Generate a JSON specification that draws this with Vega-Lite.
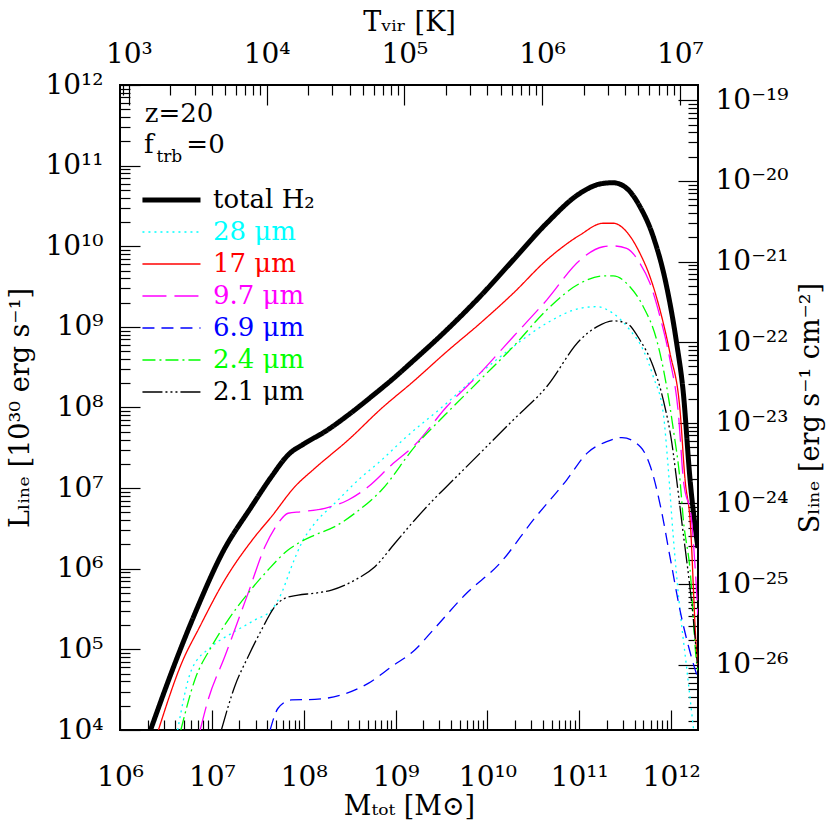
{
  "$schema": "https://vega.github.io/schema/vega-lite/v6.json",
  "width": 578,
  "height": 645,
  "autosize": "none",
  "padding": {"left": 120, "top": 85, "right": 132, "bottom": 100},
  "background": "white",
  "config": {
    "view": {"stroke": "black", "strokeWidth": 2},
    "axis": {
      "grid": false,
      "labelFont": "DejaVu Serif", "labelFontSize": 28, "labelColor": "black",
      "titleFont": "DejaVu Serif", "titleFontSize": 27, "titleFontWeight": "normal", "titleColor": "black"
    },
    "text": {"font": "DejaVu Serif", "color": "black"}
  },
  "datasets": {
    "lines": [
      {"series": "total H₂", "M": 2.15e6, "L": 1e4},
      {"series": "total H₂", "M": 3.72e6, "L": 5.55e4},
      {"series": "total H₂", "M": 6.79e6, "L": 3.08e5},
      {"series": "total H₂", "M": 1.30e7, "L": 1.57e6},
      {"series": "total H₂", "M": 2.70e7, "L": 5.89e6},
      {"series": "total H₂", "M": 4.46e7, "L": 1.39e7},
      {"series": "total H₂", "M": 6.76e7, "L": 2.58e7},
      {"series": "total H₂", "M": 1.03e8, "L": 3.60e7},
      {"series": "total H₂", "M": 1.70e8, "L": 5.01e7},
      {"series": "total H₂", "M": 3.05e8, "L": 8.07e7},
      {"series": "total H₂", "M": 5.96e8, "L": 1.48e8},
      {"series": "total H₂", "M": 9.04e8, "L": 2.19e8},
      {"series": "total H₂", "M": 1.56e9, "L": 3.80e8},
      {"series": "total H₂", "M": 3.60e9, "L": 9.14e8},
      {"series": "total H₂", "M": 8.28e9, "L": 2.37e9},
      {"series": "total H₂", "M": 1.91e10, "L": 6.75e9},
      {"series": "total H₂", "M": 4.42e10, "L": 1.93e10},
      {"series": "total H₂", "M": 1.02e11, "L": 4.54e10},
      {"series": "total H₂", "M": 1.68e11, "L": 5.92e10},
      {"series": "total H₂", "M": 2.34e11, "L": 6.14e10},
      {"series": "total H₂", "M": 3.28e11, "L": 5.24e10},
      {"series": "total H₂", "M": 4.58e11, "L": 3.10e10},
      {"series": "total H₂", "M": 6.40e11, "L": 1.31e10},
      {"series": "total H₂", "M": 8.95e11, "L": 3.15e9},
      {"series": "total H₂", "M": 1.15e12, "L": 6.25e8},
      {"series": "total H₂", "M": 1.36e12, "L": 1.50e8},
      {"series": "total H₂", "M": 1.61e12, "L": 1.26e7},
      {"series": "total H₂", "M": 1.96e12, "L": 1.81e6},

      {"series": "28 μm", "M": 4.24e6, "L": 1e4},
      {"series": "28 μm", "M": 6.00e6, "L": 5.55e4},
      {"series": "28 μm", "M": 9.91e6, "L": 1.08e5},
      {"series": "28 μm", "M": 1.64e7, "L": 1.58e5},
      {"series": "28 μm", "M": 2.93e7, "L": 2.31e5},
      {"series": "28 μm", "M": 4.46e7, "L": 3.08e5},
      {"series": "28 μm", "M": 5.73e7, "L": 4.97e5},
      {"series": "28 μm", "M": 7.36e7, "L": 1.06e6},
      {"series": "28 μm", "M": 9.46e7, "L": 2.07e6},
      {"series": "28 μm", "M": 1.32e8, "L": 3.66e6},
      {"series": "28 μm", "M": 2.18e8, "L": 6.49e6},
      {"series": "28 μm", "M": 3.92e8, "L": 1.26e7},
      {"series": "28 μm", "M": 7.05e8, "L": 2.23e7},
      {"series": "28 μm", "M": 1.26e9, "L": 4.15e7},
      {"series": "28 μm", "M": 3.60e9, "L": 1.13e8},
      {"series": "28 μm", "M": 8.28e9, "L": 2.65e8},
      {"series": "28 μm", "M": 1.91e10, "L": 5.68e8},
      {"series": "28 μm", "M": 4.42e10, "L": 1.11e9},
      {"series": "28 μm", "M": 1.02e11, "L": 1.70e9},
      {"series": "28 μm", "M": 1.55e11, "L": 1.78e9},
      {"series": "28 μm", "M": 2.34e11, "L": 1.47e9},
      {"series": "28 μm", "M": 3.56e11, "L": 9.14e8},
      {"series": "28 μm", "M": 4.98e11, "L": 5.16e8},
      {"series": "28 μm", "M": 6.40e11, "L": 2.41e8},
      {"series": "28 μm", "M": 8.22e11, "L": 8.47e7},
      {"series": "28 μm", "M": 9.25e11, "L": 1.94e7},
      {"series": "28 μm", "M": 1.05e12, "L": 2.70e6},
      {"series": "28 μm", "M": 1.22e12, "L": 3.98e5},
      {"series": "28 μm", "M": 1.48e12, "L": 5.79e4},
      {"series": "28 μm", "M": 1.76e12, "L": 1e4},

      {"series": "17 μm", "M": 2.62e6, "L": 1e4},
      {"series": "17 μm", "M": 4.85e6, "L": 7.38e4},
      {"series": "17 μm", "M": 7.08e6, "L": 1.74e5},
      {"series": "17 μm", "M": 1.38e7, "L": 7.24e5},
      {"series": "17 μm", "M": 2.94e7, "L": 2.50e6},
      {"series": "17 μm", "M": 4.46e7, "L": 4.43e6},
      {"series": "17 μm", "M": 8.00e7, "L": 1.04e7},
      {"series": "17 μm", "M": 1.32e8, "L": 1.76e7},
      {"series": "17 μm", "M": 3.05e8, "L": 3.95e7},
      {"series": "17 μm", "M": 7.05e8, "L": 9.77e7},
      {"series": "17 μm", "M": 1.56e9, "L": 2.10e8},
      {"series": "17 μm", "M": 3.60e9, "L": 4.92e8},
      {"series": "17 μm", "M": 8.28e9, "L": 1.10e9},
      {"series": "17 μm", "M": 1.91e10, "L": 2.61e9},
      {"series": "17 μm", "M": 4.42e10, "L": 6.75e9},
      {"series": "17 μm", "M": 1.02e11, "L": 1.38e10},
      {"series": "17 μm", "M": 1.82e11, "L": 1.93e10},
      {"series": "17 μm", "M": 2.34e11, "L": 1.93e10},
      {"series": "17 μm", "M": 3.28e11, "L": 1.51e10},
      {"series": "17 μm", "M": 4.58e11, "L": 8.17e9},
      {"series": "17 μm", "M": 5.89e11, "L": 4.19e9},
      {"series": "17 μm", "M": 7.57e11, "L": 1.62e9},
      {"series": "17 μm", "M": 9.73e11, "L": 4.70e8},
      {"series": "17 μm", "M": 1.25e12, "L": 9.31e7},
      {"series": "17 μm", "M": 1.42e12, "L": 1.26e7},
      {"series": "17 μm", "M": 1.61e12, "L": 4.03e6},
      {"series": "17 μm", "M": 1.90e12, "L": 9.02e4},
      {"series": "17 μm", "M": 1.96e12, "L": 6.46e4},

      {"series": "9.7 μm", "M": 7.46e6, "L": 1e4},
      {"series": "9.7 μm", "M": 9.10e6, "L": 2.36e4},
      {"series": "9.7 μm", "M": 1.38e7, "L": 8.11e4},
      {"series": "9.7 μm", "M": 2.48e7, "L": 4.97e5},
      {"series": "9.7 μm", "M": 3.78e7, "L": 1.87e6},
      {"series": "9.7 μm", "M": 5.26e7, "L": 3.66e6},
      {"series": "9.7 μm", "M": 6.76e7, "L": 4.88e6},
      {"series": "9.7 μm", "M": 9.46e7, "L": 5.11e6},
      {"series": "9.7 μm", "M": 1.70e8, "L": 5.62e6},
      {"series": "9.7 μm", "M": 3.05e8, "L": 7.13e6},
      {"series": "9.7 μm", "M": 5.04e8, "L": 1.04e7},
      {"series": "9.7 μm", "M": 9.04e8, "L": 1.94e7},
      {"series": "9.7 μm", "M": 1.62e9, "L": 3.43e7},
      {"series": "9.7 μm", "M": 3.60e9, "L": 1.02e8},
      {"series": "9.7 μm", "M": 8.28e9, "L": 2.65e8},
      {"series": "9.7 μm", "M": 1.91e10, "L": 7.55e8},
      {"series": "9.7 μm", "M": 4.42e10, "L": 2.15e9},
      {"series": "9.7 μm", "M": 1.02e11, "L": 6.75e9},
      {"series": "9.7 μm", "M": 1.82e11, "L": 9.86e9},
      {"series": "9.7 μm", "M": 2.34e11, "L": 1.01e10},
      {"series": "9.7 μm", "M": 3.28e11, "L": 9.44e9},
      {"series": "9.7 μm", "M": 4.58e11, "L": 6.15e9},
      {"series": "9.7 μm", "M": 5.89e11, "L": 3.47e9},
      {"series": "9.7 μm", "M": 7.57e11, "L": 1.34e9},
      {"series": "9.7 μm", "M": 9.73e11, "L": 3.88e8},
      {"series": "9.7 μm", "M": 1.20e12, "L": 8.47e7},
      {"series": "9.7 μm", "M": 1.36e12, "L": 1.26e7},
      {"series": "9.7 μm", "M": 1.67e12, "L": 4.03e6},
      {"series": "9.7 μm", "M": 1.90e12, "L": 4.97e5},
      {"series": "9.7 μm", "M": 1.96e12, "L": 2.69e5},

      {"series": "6.9 μm", "M": 4.31e7, "L": 1e4},
      {"series": "6.9 μm", "M": 5.26e7, "L": 1.86e4},
      {"series": "6.9 μm", "M": 7.36e7, "L": 2.36e4},
      {"series": "6.9 μm", "M": 1.32e8, "L": 2.40e4},
      {"series": "6.9 μm", "M": 2.58e8, "L": 2.72e4},
      {"series": "6.9 μm", "M": 5.04e8, "L": 3.79e4},
      {"series": "6.9 μm", "M": 9.04e8, "L": 6.10e4},
      {"series": "6.9 μm", "M": 1.62e9, "L": 9.82e4},
      {"series": "6.9 μm", "M": 2.57e9, "L": 1.74e5},
      {"series": "6.9 μm", "M": 5.93e9, "L": 4.97e5},
      {"series": "6.9 μm", "M": 1.37e10, "L": 1.17e6},
      {"series": "6.9 μm", "M": 3.16e10, "L": 4.03e6},
      {"series": "6.9 μm", "M": 7.29e10, "L": 1.26e7},
      {"series": "6.9 μm", "M": 1.21e11, "L": 2.70e7},
      {"series": "6.9 μm", "M": 1.99e11, "L": 3.77e7},
      {"series": "6.9 μm", "M": 2.92e11, "L": 4.24e7},
      {"series": "6.9 μm", "M": 4.65e11, "L": 3.24e7},
      {"series": "6.9 μm", "M": 5.98e11, "L": 1.83e7},
      {"series": "6.9 μm", "M": 7.71e11, "L": 5.77e6},
      {"series": "6.9 μm", "M": 9.91e11, "L": 1.25e6},
      {"series": "6.9 μm", "M": 1.28e12, "L": 2.69e5},
      {"series": "6.9 μm", "M": 1.64e12, "L": 8.51e4},
      {"series": "6.9 μm", "M": 1.95e12, "L": 4.42e4},

      {"series": "2.4 μm", "M": 4.60e6, "L": 1e4},
      {"series": "2.4 μm", "M": 6.52e6, "L": 4.17e4},
      {"series": "2.4 μm", "M": 9.91e6, "L": 1.08e5},
      {"series": "2.4 μm", "M": 1.50e7, "L": 2.31e5},
      {"series": "2.4 μm", "M": 2.48e7, "L": 4.97e5},
      {"series": "2.4 μm", "M": 4.09e7, "L": 9.64e5},
      {"series": "2.4 μm", "M": 6.76e7, "L": 1.71e6},
      {"series": "2.4 μm", "M": 8.69e7, "L": 2.07e6},
      {"series": "2.4 μm", "M": 1.32e8, "L": 2.62e6},
      {"series": "2.4 μm", "M": 2.18e8, "L": 3.33e6},
      {"series": "2.4 μm", "M": 3.61e8, "L": 4.88e6},
      {"series": "2.4 μm", "M": 7.05e8, "L": 9.48e6},
      {"series": "2.4 μm", "M": 1.62e9, "L": 3.27e7},
      {"series": "2.4 μm", "M": 3.60e9, "L": 8.47e7},
      {"series": "2.4 μm", "M": 8.28e9, "L": 2.19e8},
      {"series": "2.4 μm", "M": 1.91e10, "L": 5.68e8},
      {"series": "2.4 μm", "M": 4.42e10, "L": 1.62e9},
      {"series": "2.4 μm", "M": 1.02e11, "L": 3.47e9},
      {"series": "2.4 μm", "M": 1.82e11, "L": 4.28e9},
      {"series": "2.4 μm", "M": 2.34e11, "L": 4.28e9},
      {"series": "2.4 μm", "M": 3.56e11, "L": 3.15e9},
      {"series": "2.4 μm", "M": 4.98e11, "L": 1.78e9},
      {"series": "2.4 μm", "M": 6.97e11, "L": 6.87e8},
      {"series": "2.4 μm", "M": 8.95e11, "L": 1.81e8},
      {"series": "2.4 μm", "M": 1.06e12, "L": 5.26e7},
      {"series": "2.4 μm", "M": 1.25e12, "L": 1.26e7},
      {"series": "2.4 μm", "M": 1.36e12, "L": 4.03e6},
      {"series": "2.4 μm", "M": 1.61e12, "L": 9.64e5},
      {"series": "2.4 μm", "M": 1.90e12, "L": 6.71e4},
      {"series": "2.4 μm", "M": 1.96e12, "L": 5.50e4},

      {"series": "2.1 μm", "M": 1.27e7, "L": 1e4},
      {"series": "2.1 μm", "M": 1.77e7, "L": 3.44e4},
      {"series": "2.1 μm", "M": 2.48e7, "L": 8.11e4},
      {"series": "2.1 μm", "M": 3.47e7, "L": 1.74e5},
      {"series": "2.1 μm", "M": 4.84e7, "L": 3.38e5},
      {"series": "2.1 μm", "M": 6.22e7, "L": 4.30e5},
      {"series": "2.1 μm", "M": 8.69e7, "L": 4.72e5},
      {"series": "2.1 μm", "M": 1.32e8, "L": 4.97e5},
      {"series": "2.1 μm", "M": 2.01e8, "L": 5.45e5},
      {"series": "2.1 μm", "M": 3.61e8, "L": 7.24e5},
      {"series": "2.1 μm", "M": 5.96e8, "L": 1.06e6},
      {"series": "2.1 μm", "M": 9.84e8, "L": 2.07e6},
      {"series": "2.1 μm", "M": 1.62e9, "L": 4.03e6},
      {"series": "2.1 μm", "M": 2.57e9, "L": 7.13e6},
      {"series": "2.1 μm", "M": 4.24e9, "L": 1.26e7},
      {"series": "2.1 μm", "M": 8.28e9, "L": 2.70e7},
      {"series": "2.1 μm", "M": 1.91e10, "L": 7.00e7},
      {"series": "2.1 μm", "M": 4.42e10, "L": 1.81e8},
      {"series": "2.1 μm", "M": 1.02e11, "L": 6.87e8},
      {"series": "2.1 μm", "M": 1.55e11, "L": 1.00e9},
      {"series": "2.1 μm", "M": 2.34e11, "L": 1.19e9},
      {"series": "2.1 μm", "M": 3.28e11, "L": 1.11e9},
      {"series": "2.1 μm", "M": 4.58e11, "L": 6.87e8},
      {"series": "2.1 μm", "M": 6.40e11, "L": 3.21e8},
      {"series": "2.1 μm", "M": 8.22e11, "L": 1.24e8},
      {"series": "2.1 μm", "M": 1.02e12, "L": 3.60e7},
      {"series": "2.1 μm", "M": 1.15e12, "L": 1.26e7},
      {"series": "2.1 μm", "M": 1.30e12, "L": 4.03e6},
      {"series": "2.1 μm", "M": 1.75e12, "L": 2.31e5},
      {"series": "2.1 μm", "M": 1.93e12, "L": 6.76e4}
    ],
    "notes": [
      {"note": "z=20", "M": 1.86e6, "L": 3.51e11, "size": "big"},
      {"note": "f", "M": 1.82e6, "L": 1.42e11, "size": "big"},
      {"note": "=0", "M": 5.28e6, "L": 1.42e11, "size": "big"},
      {"note": "trb", "M": 2.49e6, "L": 1.12e11, "size": "small"}
    ]
  },
  "layer": [
    {
      "data": {"name": "lines"},
      "mark": {"type": "line", "clip": true, "interpolate": "monotone"},
      "encoding": {
        "x": {
          "field": "M", "type": "quantitative",
          "scale": {"type": "log", "domain": [1e6, 1.963e12], "nice": false},
          "axis": {
            "orient": "bottom", "domainColor": "black", "tickColor": "black", "tickWidth": 1.2,
            "values": [1e6, 1e7, 1e8, 1e9, 1e10, 1e11, 1e12],
            "labelExpr": "'10' + ['⁶','⁷','⁸','⁹','¹⁰','¹¹','¹²'][round(log(datum.value)/LN10) - 6]",
            "labelFlush": false, "labelOverlap": false,
            "tickSize": -20, "labelPadding": 53,
            "title": "Mₜₒₜ [M⊙]", "titlePadding": 2
          }
        },
        "y": {
          "field": "L", "type": "quantitative",
          "scale": {"type": "log", "domain": [1e4, 1e12], "nice": false},
          "axis": {
            "orient": "left", "domainColor": "black", "tickColor": "black", "tickWidth": 1.2,
            "values": [1e4, 1e5, 1e6, 1e7, 1e8, 1e9, 1e10, 1e11, 1e12],
            "labelExpr": "'10' + ['⁴','⁵','⁶','⁷','⁸','⁹','¹⁰','¹¹','¹²'][round(log(datum.value)/LN10) - 4]",
            "labelFlush": false, "labelOverlap": false,
            "tickSize": -20, "labelPadding": 37,
            "title": "Lₗᵢₙₑ [10³⁰ erg s⁻¹]", "titlePadding": 10
          }
        },
        "color": {
          "field": "series", "type": "nominal",
          "scale": {
            "domain": ["total H₂", "28 μm", "17 μm", "9.7 μm", "6.9 μm", "2.4 μm", "2.1 μm"],
            "range": ["#000000", "#00ffff", "#ff0000", "#ff00ff", "#0000ff", "#00ff00", "#000000"]
          },
          "legend": {
            "title": null, "orient": "none", "legendX": 54, "legendY": 102, "padding": 0,
            "symbolType": "M-3.3,0H1", "symbolSize": 729, "symbolFillColor": "transparent",
            "labelFont": "DejaVu Serif", "labelFontSize": 26, "labelOffset": 13, "rowPadding": 6,
            "encode": {
              "labels": {"update": {"fill": {"scale": "color", "field": "value"}}},
              "symbols": {"update": {"strokeWidth": {"signal": "datum.value === 'total H₂' ? 5 : 1.3"}}}
            }
          }
        },
        "strokeDash": {
          "field": "series", "type": "nominal",
          "scale": {
            "domain": ["total H₂", "28 μm", "17 μm", "9.7 μm", "6.9 μm", "2.4 μm", "2.1 μm"],
            "range": [[1, 0], [2, 4], [1, 0], [24, 8], [12, 7], [13, 4, 2, 4], [20, 3, 2, 3, 2, 3, 2, 3]]
          }
        },
        "strokeWidth": {"condition": {"test": "datum.series === 'total H₂'", "value": 5}, "value": 1.3}
      }
    },
    {
      "data": {"name": "lines"},
      "mark": {"type": "point", "opacity": 0},
      "encoding": {
        "x": {
          "field": "M", "type": "quantitative",
          "axis": {
            "orient": "bottom", "domainColor": "black", "tickColor": "black", "tickWidth": 1.2,
            "labels": false, "title": null, "tickSize": -10,
            "values": [2e6,3e6,4e6,5e6,6e6,7e6,8e6,9e6,2e7,3e7,4e7,5e7,6e7,7e7,8e7,9e7,2e8,3e8,4e8,5e8,6e8,7e8,8e8,9e8,2e9,3e9,4e9,5e9,6e9,7e9,8e9,9e9,2e10,3e10,4e10,5e10,6e10,7e10,8e10,9e10,2e11,3e11,4e11,5e11,6e11,7e11,8e11,9e11]
          }
        },
        "y": {
          "field": "L", "type": "quantitative",
          "axis": {
            "orient": "left", "domainColor": "black", "tickColor": "black", "tickWidth": 1.2,
            "labels": false, "title": null, "tickSize": -10,
            "values": [2e4,3e4,4e4,5e4,6e4,7e4,8e4,9e4,2e5,3e5,4e5,5e5,6e5,7e5,8e5,9e5,2e6,3e6,4e6,5e6,6e6,7e6,8e6,9e6,2e7,3e7,4e7,5e7,6e7,7e7,8e7,9e7,2e8,3e8,4e8,5e8,6e8,7e8,8e8,9e8,2e9,3e9,4e9,5e9,6e9,7e9,8e9,9e9,2e10,3e10,4e10,5e10,6e10,7e10,8e10,9e10,2e11,3e11,4e11,5e11,6e11,7e11,8e11,9e11]
          }
        }
      }
    },
    {
      "data": {"name": "lines"},
      "mark": {"type": "point", "opacity": 0},
      "encoding": {
        "x": {
          "field": "M", "type": "quantitative",
          "axis": {
            "orient": "top", "domainColor": "black", "tickColor": "black", "tickWidth": 1.2,
            "values": [1.247e6, 3.945e7, 1.247e9, 3.945e10, 1.247e12],
            "labelExpr": "'10' + ['³','⁴','⁵','⁶','⁷'][round((log(datum.value)/LN10 - 6.096)/1.5)]",
            "labelFlush": false, "labelOverlap": false,
            "tickSize": -20, "labelPadding": 37,
            "title": "Tᵥᵢᵣ [K]", "titlePadding": 4
          }
        },
        "y": {
          "field": "L", "type": "quantitative",
          "axis": {
            "orient": "right", "domainColor": "black", "tickColor": "black", "tickWidth": 1.2,
            "values": [6.457e4, 6.457e5, 6.457e6, 6.457e7, 6.457e8, 6.457e9, 6.457e10, 6.457e11],
            "labelExpr": "'10' + ['⁻²⁶','⁻²⁵','⁻²⁴','⁻²³','⁻²²','⁻²¹','⁻²⁰','⁻¹⁹'][round(log(datum.value)/LN10 - 4.81)]",
            "labelFlush": false, "labelOverlap": false,
            "tickSize": -20, "labelPadding": 37,
            "title": "Sₗᵢₙₑ [erg s⁻¹ cm⁻²]", "titlePadding": 10,
            "titleAngle": 270, "titleBaseline": "top"
          }
        }
      }
    },
    {
      "data": {"name": "lines"},
      "mark": {"type": "point", "opacity": 0},
      "encoding": {
        "x": {
          "field": "M", "type": "quantitative",
          "axis": {
            "orient": "top", "domainColor": "black", "tickColor": "black", "tickWidth": 1.2,
            "labels": false, "title": null, "tickSize": -10,
            "values": [1.065e6,3.528e6,6.481e6,9.979e6,1.395e7,1.834e7,2.310e7,2.822e7,3.368e7,1.116e8,2.050e8,3.156e8,4.410e8,5.799e8,7.305e8,8.926e8,1.065e9,3.528e9,6.481e9,9.979e9,1.395e10,1.834e10,2.310e10,2.822e10,3.368e10,1.116e11,2.050e11,3.156e11,4.410e11,5.799e11,7.305e11,8.926e11,1.065e12]
          }
        },
        "y": {
          "field": "L", "type": "quantitative",
          "axis": {
            "orient": "right", "domainColor": "black", "tickColor": "black", "tickWidth": 1.2,
            "labels": false, "title": null, "tickSize": -10,
            "values": [1.2914e4,1.9371e4,2.5828e4,3.2285e4,3.8742e4,4.5199e4,5.1656e4,5.8113e4,1.2914e5,1.9371e5,2.5828e5,3.2285e5,3.8742e5,4.5199e5,5.1656e5,5.8113e5,1.2914e6,1.9371e6,2.5828e6,3.2285e6,3.8742e6,4.5199e6,5.1656e6,5.8113e6,1.2914e7,1.9371e7,2.5828e7,3.2285e7,3.8742e7,4.5199e7,5.1656e7,5.8113e7,1.2914e8,1.9371e8,2.5828e8,3.2285e8,3.8742e8,4.5199e8,5.1656e8,5.8113e8,1.2914e9,1.9371e9,2.5828e9,3.2285e9,3.8742e9,4.5199e9,5.1656e9,5.8113e9,1.2914e10,1.9371e10,2.5828e10,3.2285e10,3.8742e10,4.5199e10,5.1656e10,5.8113e10,1.2914e11,1.9371e11,2.5828e11,3.2285e11,3.8742e11,4.5199e11,5.1656e11,5.8113e11]
          }
        }
      }
    },
    {
      "data": {"name": "notes"},
      "transform": [{"filter": "datum.size === 'big'"}],
      "mark": {"type": "text", "align": "left", "baseline": "alphabetic", "fontSize": 26},
      "encoding": {
        "x": {"field": "M", "type": "quantitative", "axis": null},
        "y": {"field": "L", "type": "quantitative", "axis": null},
        "text": {"field": "note"}
      }
    },
    {
      "data": {"name": "notes"},
      "transform": [{"filter": "datum.size === 'small'"}],
      "mark": {"type": "text", "align": "left", "baseline": "alphabetic", "fontSize": 17},
      "encoding": {
        "x": {"field": "M", "type": "quantitative", "axis": null},
        "y": {"field": "L", "type": "quantitative", "axis": null},
        "text": {"field": "note"}
      }
    }
  ],
  "resolve": {
    "axis": {"x": "independent", "y": "independent"}
  }
}
